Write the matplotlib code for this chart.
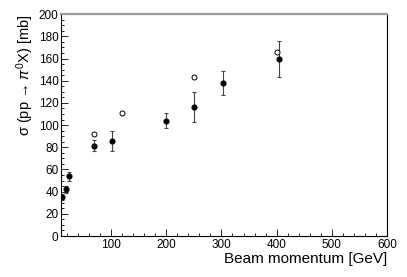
import numpy as np
import matplotlib
matplotlib.use('Agg')
import matplotlib.pyplot as plt
import matplotlib.ticker as tkr

plt.rcParams['font.family'] = ['Liberation Sans', 'DejaVu Sans']
plt.rcParams['mathtext.fontset'] = 'custom'
plt.rcParams['mathtext.rm'] = 'Liberation Sans'
plt.rcParams['mathtext.it'] = 'Liberation Sans:italic'

# measured cross sections (filled) with errors
p_meas = [12, 19, 24, 70, 102, 200, 250, 302, 405]
sig_meas = [35, 42, 54, 81.5, 85.5, 104, 116.5, 138, 159.5]
err_meas = [2.5, 3, 4, 5, 9, 7, 13.5, 11, 16.5]

# open points
p_open = [70, 120, 250, 400]
sig_open = [92, 111, 143, 166]

fig = plt.figure(figsize=(4.07, 2.77), dpi=100)
ax = fig.add_axes([0.1506, 0.148, 0.8004, 0.801])

ax.errorbar(p_meas, sig_meas, yerr=err_meas, fmt='o', color='black', ms=3.4,
            ecolor='#444444', elinewidth=0.8, capsize=1.2, capthick=0.8)
ax.plot(p_open, sig_open, 'o', mfc='white', mec='black', ms=3.6, mew=0.7)

ax.set_xlim(10, 600)
ax.set_ylim(0, 200)

ax.xaxis.set_major_locator(tkr.MultipleLocator(100))
ax.xaxis.set_minor_locator(tkr.MultipleLocator(20))
ax.yaxis.set_major_locator(tkr.MultipleLocator(20))
ax.yaxis.set_minor_locator(tkr.MultipleLocator(5))
ax.xaxis.set_major_formatter(tkr.FuncFormatter(lambda v, p: '' if v < 50 else '%d' % v))

ax.tick_params(which='both', direction='in', top=False, right=False,
               labelsize=8.5, width=0.6, color='black')
ax.tick_params(which='major', length=5, pad=2)
ax.tick_params(which='minor', length=2.5)

for s in ['left', 'bottom']:
    ax.spines[s].set_linewidth(0.8)
ax.spines['top'].set_color('#999999')
ax.spines['top'].set_linewidth(1.6)
ax.spines['right'].set_linewidth(0.8)

ax.set_xlabel('Beam momentum [GeV]', fontsize=11, ha='right', x=1.0, labelpad=1)
ax.set_ylabel('σ (pp → $\\pi^{0}$X) [mb]', fontsize=10.5,
              ha='right', y=1.0, labelpad=2)

fig.savefig('out.png', dpi=100)
